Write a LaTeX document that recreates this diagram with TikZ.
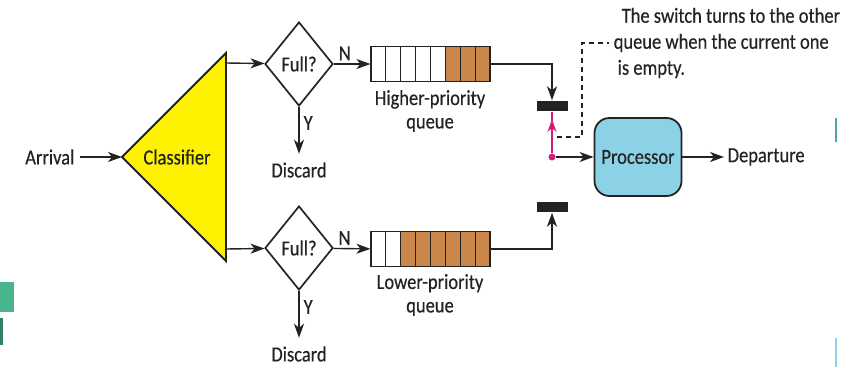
\documentclass[tikz,border=0pt]{standalone}
\usepackage{fontspec}
\setmainfont{Carlito}[FakeStretch=0.86,FakeBold=0.4]
\usepackage{xcolor}
\usepackage{tikz}
\usetikzlibrary{shapes.geometric,arrows.meta,positioning}
\definecolor{ink}{RGB}{35,35,35}
\definecolor{brownq}{RGB}{202,133,72}
\definecolor{procblue}{RGB}{140,210,230}
\definecolor{swpink}{RGB}{210,30,120}
\definecolor{edgegreen}{RGB}{72,182,140}

\begin{document}
\begin{tikzpicture}[x=1pt, y=-1pt, line width=1.4pt, draw=ink,
    every node/.style={font=\fontsize{21.5}{23.5}\selectfont, text=ink, inner sep=1pt},
    arr/.style={-{Stealth[length=14pt,width=10pt,inset=4pt]}},
    test/.style={diamond, draw, line width=1.7pt, minimum width=68pt, minimum height=84pt, inner sep=0pt},
    cell/.style={draw, line width=1.1pt, minimum width=14.875pt, minimum height=35pt, inner sep=0pt},
    switch/.style={fill=ink, minimum width=31pt, minimum height=10pt, inner sep=0pt}]
  \useasboundingbox (0,0) rectangle (851,367);

  \fill[edgegreen] (0,282) rectangle (14,312);
  \fill[edgegreen!70!black] (0,318) rectangle (3,345);
  \fill[teal!70] (835,118) rectangle (837,142);
  \fill[procblue] (835,338) rectangle (837,367);

  \coordinate (apex) at (122,157);
  \coordinate (cls-hi) at (226,63);
  \coordinate (cls-lo) at (226,249);
  \draw[line width=1.8pt, fill=yellow] (apex) -- (226,53) -- (226,261) -- cycle;
  \node (cls) at (177,157) {Classifier};
  \node[anchor=east] (arr) at (76,157) {Arrival};
  \draw[arr, shorten <=4pt] (arr) -- (apex);

  \node[test] (hfull) at (299,64) {};
  \node[test] (lfull) at (299,248) {};
  \node at (hfull) {Full?};
  \node at (lfull) {Full?};
  \node (hdisc) at (299,170) {Discard};
  \node (ldisc) at (299,354) {Discard};
  \draw[arr] (cls-hi) -- (hfull);
  \draw[arr] (cls-lo) -- (lfull);
  \draw[arr, shorten >=7pt] (hfull.south) -- node[right=3pt, pos=0.3] {Y} (hdisc.north);
  \draw[arr, shorten >=7pt] (lfull.south) -- node[right=3pt, pos=0.3] {Y} (ldisc.north);

  \foreach \q/\y/\n in {hq/64/5, lq/249/2}
    \foreach \k in {1,...,8} {
      \ifnum\k>\n \def\fc{brownq}\else\def\fc{white}\fi
      \node[cell, fill=\fc] (\q\k) at ({371+(\k-0.5)*14.875},\y) {};
    }
  \draw[arr] (hfull) -- node[above=2pt, pos=0.3] {N} (hq1);
  \draw[arr] (lfull) -- node[above=2pt, pos=0.3] {N} (lq1);
  \node[align=center] (hqlbl) at (430,111) {Higher-priority\\queue};
  \node[align=center] (lqlbl) at (430,295) {Lower-priority\\queue};

  \node[switch] (sw1) at (552,106) {};
  \node[switch] (sw2) at (552,207) {};
  \draw[arr] (hq8.east) -| (sw1.north);
  \draw[arr] (lq8.east) -| (sw2.south);

  \node[circle, fill=swpink, inner sep=0pt, minimum size=7pt] (dot) at (552,157) {};
  \draw[swpink, line width=1.8pt] (dot) -- (sw1.south);
  \draw[swpink, line width=1.8pt, -{Stealth[length=12pt,width=9pt,inset=3.5pt]}, shorten >=8pt] (dot) -- (sw1.south);

  \node[draw, line width=1.8pt, fill=procblue, rounded corners=15pt,
        minimum width=87pt, minimum height=78pt] (proc) at (638,157) {Processor};
  \node[anchor=west] (dep) at (726,157) {Departure};
  \draw[arr] (dot) -- (proc);
  \draw[arr, shorten >=2pt] (proc) -- (dep);

  \node[anchor=west, align=left, font=\fontsize{21.5}{26}\selectfont] (note) at (612,43)
    {\hspace{8pt}The switch turns to the other\\queue when the current one\\\hspace{4pt}is empty.};
  \coordinate (tap) at (557,137);
  \draw[dashed, line width=1.2pt, dash pattern=on 5pt off 4pt, shorten >=3pt] (tap) -- (582,137) |- (note.west);
\end{tikzpicture}
\end{document}
